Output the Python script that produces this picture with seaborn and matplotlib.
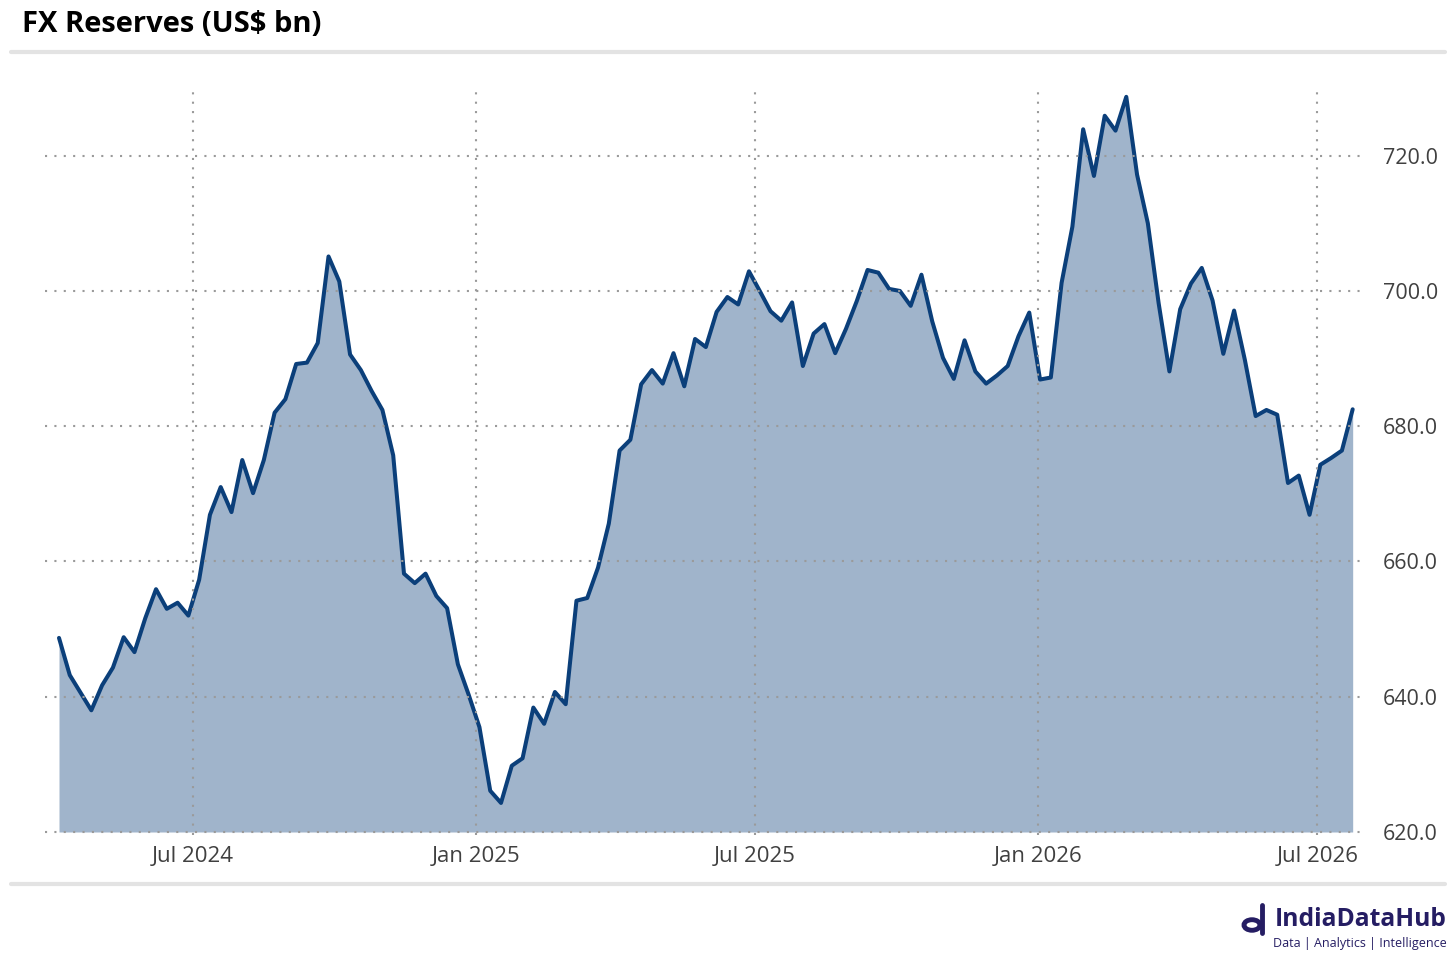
import numpy as np
import pandas as pd
import matplotlib.pyplot as plt
import matplotlib.dates as mdates
import seaborn as sns
from matplotlib.patches import Circle
from matplotlib.lines import Line2D

# weekly FX reserves, US$ bn
start_date = "2024-04-05"
reserves = [
    648.7, 643.2, 640.6, 638.0, 641.7, 644.3, 648.8, 646.6, 651.6, 655.9,
    653.0, 653.9, 652.0, 657.3, 666.9, 671.0, 667.3, 675.0, 670.1, 675.0,
    682.0, 684.0, 689.2, 689.4, 692.3, 705.1, 701.4, 690.6, 688.3, 685.2,
    682.4, 675.7,
    658.2, 656.8, 658.2, 654.9, 653.1, 644.8, 640.3, 635.5, 626.1, 624.3,
    629.8, 630.9, 638.4, 636.0, 640.7, 638.9, 654.2, 654.6, 659.1, 665.6,
    676.4, 678.0, 686.2, 688.3, 686.3, 690.8, 685.9, 692.9, 691.7, 696.9,
    699.1, 698.0, 702.9, 700.0, 697.0, 695.6, 698.3, 688.9, 693.7, 695.1,
    690.8, 694.4, 698.5, 703.1, 702.7, 700.3, 700.0, 697.8, 702.4, 695.5,
    690.1, 687.0, 692.7, 688.1, 686.3, 687.5, 688.9, 693.3, 696.8,
    686.9, 687.2, 701.2, 709.5, 723.9, 717.0, 725.9, 723.7, 728.7, 717.2,
    710.0, 698.2, 688.1, 697.3, 701.1, 703.4, 698.6, 690.7, 697.1, 689.8,
    681.5, 682.4, 681.7, 671.6, 672.7, 666.9, 674.3, 675.3, 676.4, 682.5,
]
y_ticks = [620, 640, 660, 680, 700, 720]

dates = pd.date_range(start_date, periods=len(reserves), freq="7D")
df = pd.DataFrame({"date": dates, "reserves": reserves})

line_col = "#0b3f7a"
grid_col = "#9a9a9a"
text_col = "#404040"
brand_col = "#251d63"

sns.set_style("white")
plt.rcParams["font.family"] = ["Open Sans", "DejaVu Sans"]

fig = plt.figure(figsize=(14.56, 9.6), dpi=100)
ax = fig.add_axes([0.031, 0.1305, 0.9065, 0.7778])

ax.fill_between(df["date"], df["reserves"], 620, color=line_col, alpha=0.39, lw=0)
sns.lineplot(data=df, x="date", y="reserves", ax=ax, color=line_col, lw=2.9)

ax.set_ylim(619.6, 730)
ax.set_xlim(df["date"].iloc[0] - pd.Timedelta(days=9), df["date"].iloc[-1] + pd.Timedelta(days=8))
ax.set_yticks(y_ticks)
ax.yaxis.set_major_formatter(plt.FormatStrFormatter("%.1f"))
ax.yaxis.tick_right()
ax.xaxis.set_major_locator(mdates.MonthLocator(bymonth=[1, 7]))
ax.xaxis.set_major_formatter(mdates.DateFormatter("%b %Y"))
ax.tick_params(axis="y", length=0, pad=13, labelsize=15.5, labelcolor=text_col)
ax.tick_params(axis="x", length=0, pad=8, labelsize=16, labelcolor=text_col)
ax.set_xlabel("")
ax.set_ylabel("")
ax.grid(True, color=grid_col, linestyle=(0, (1, 3.5)), lw=1.5)
ax.set_axisbelow(False)
for s in ax.spines.values():
    s.set_visible(False)

# title and separators
fig.text(22 / 1456, 1 - 25 / 960, r"FX Reserves (US\$ bn)", fontsize=21,
         fontweight="bold", color="black", va="center", ha="left")
fig.add_artist(Line2D([11 / 1456, 1445 / 1456], [1 - 52 / 960] * 2,
                      color="#e3e3e3", lw=3))
fig.add_artist(Line2D([11 / 1456, 1445 / 1456], [1 - 884 / 960] * 2,
                      color="#e3e3e3", lw=3))

# brand
fig.text(1447 / 1456, 1 - 919 / 960, "IndiaDataHub", fontsize=17.7,
         fontweight="bold", color=brand_col, ha="right", va="center")
fig.text(1447 / 1456, 1 - 943 / 960, "Data | Analytics | Intelligence",
         fontsize=9, color=brand_col, ha="right", va="center")
fig.add_artist(Circle((1252 / 1456, 1 - 925 / 960), 0.0055, transform=fig.transFigure,
                      fill=False, ec=brand_col, lw=3.5))
fig.add_artist(Line2D([1261.5 / 1456] * 2, [1 - 905 / 960, 1 - 933 / 960],
                      color=brand_col, lw=3.5, solid_capstyle="round"))

fig.savefig("out.png", dpi=100)
